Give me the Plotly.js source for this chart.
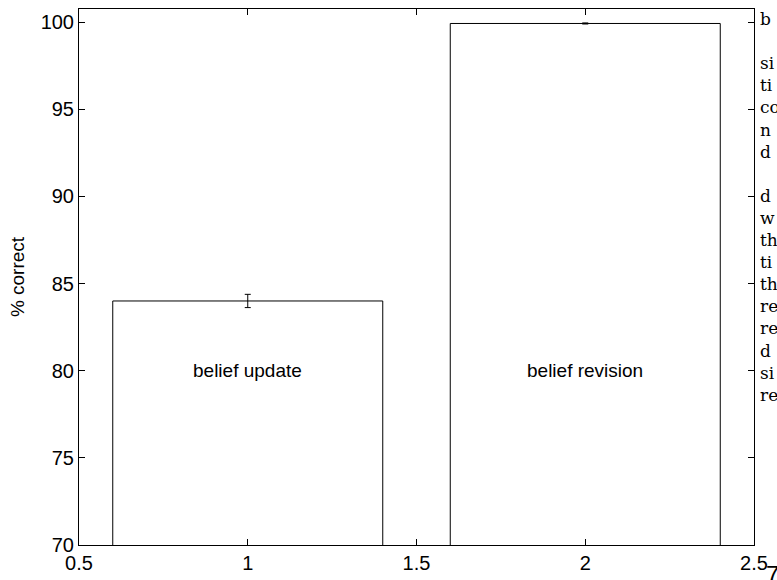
<!DOCTYPE html>
<html>
<head>
<meta charset="utf-8">
<script src="https://cdn.plot.ly/plotly-3.0.1.min.js"></script>
<style>html,body{margin:0;padding:0;background:#fff;}#chart{width:777px;height:580px;}</style>
</head>
<body>
<div id="chart"></div>
<script>
const categories = [1, 2];
const barLabels = ["belief update", "belief revision"];
const values = [84.0, 99.92];
const errors = [0.38, 0.03];
const labelY = 80;
const xTicks = [0.5, 1, 1.5, 2, 2.5];
const xTickText = ["0.5", "1", "1.5", "2", "2.5"];
const yTicks = [70, 75, 80, 85, 90, 95, 100];
const sideText = ["b", "", "si", "ti", "co", "n", "d", "", "d", "w", "th", "ti", "th", "re", "re", "d", "si", "re"];

const trace = {
  type: "bar",
  x: categories,
  y: values,
  width: 0.8,
  marker: {color: "#ffffff", line: {color: "#000000", width: 1}},
  error_y: {type: "data", array: errors, visible: true, color: "#000000", thickness: 1, width: 3},
  hoverinfo: "none"
};

const annotations = barLabels.map((t, i) => ({
  x: categories[i], y: labelY, xref: "x", yref: "y", text: t, showarrow: false,
  font: {family: "Liberation Sans, Arial, sans-serif", size: 19, color: "#000"}
}));
annotations.push({
  xref: "paper", yref: "paper", x: 1.006, y: 1.004, xanchor: "left", yanchor: "top",
  align: "left", showarrow: false, text: sideText.join("<br>"),
  font: {family: "DejaVu Serif, Liberation Serif, serif", size: 17, color: "#000"}
});
annotations.push({
  xref: "paper", yref: "paper", x: 1.027, y: -0.026, xanchor: "center", yanchor: "top",
  showarrow: false, text: "7",
  font: {family: "Liberation Sans, Arial, sans-serif", size: 24, color: "#000"}
});

const axisCommon = {
  showline: true, linecolor: "#000", linewidth: 1, mirror: "ticks",
  ticks: "inside", ticklen: 6, tickcolor: "#000", tickwidth: 1,
  showgrid: false, zeroline: false,
  tickfont: {family: "Liberation Sans, Arial, sans-serif", size: 20, color: "#000"}
};

const layout = {
  width: 777, height: 580,
  margin: {l: 79, r: 23, t: 9, b: 35},
  paper_bgcolor: "#fff", plot_bgcolor: "#fff",
  showlegend: false,
  xaxis: Object.assign({}, axisCommon, {range: [0.5, 2.5], tickvals: xTicks, ticktext: xTickText, ticklabelstandoff: 0}),
  yaxis: Object.assign({}, axisCommon, {range: [70, 100.75], tickvals: yTicks,
    title: {text: "% correct", standoff: 10, font: {family: "Liberation Sans, Arial, sans-serif", size: 19, color: "#000"}}}),
  annotations: annotations
};

Plotly.newPlot("chart", [trace], layout, {displayModeBar: false, staticPlot: true});
</script>
</body>
</html>
